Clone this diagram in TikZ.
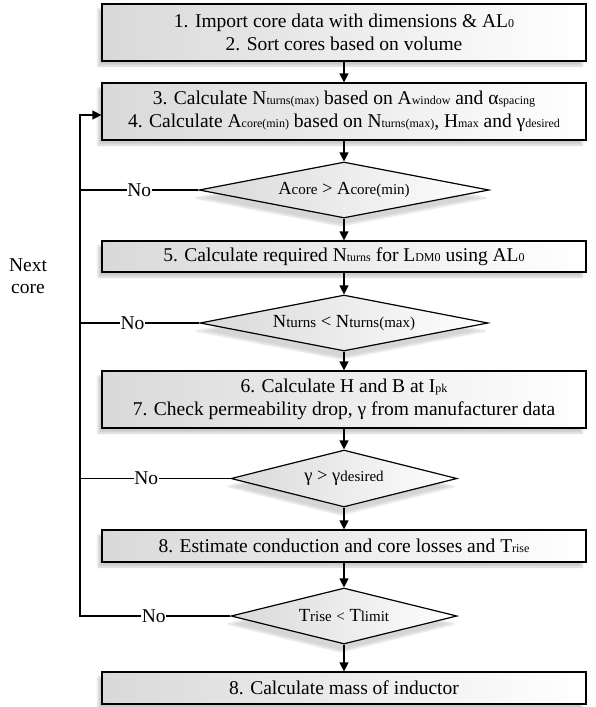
\documentclass[tikz,border=0pt]{standalone}
\usepackage{fontspec}
\setmainfont{Liberation Serif}
\usetikzlibrary{shapes.geometric,arrows.meta,shadows.blur}
\newcommand\sbs[1]{{\fontsize{12}{12}\selectfont #1}}
\newcommand\dsb[1]{{\fontsize{15}{15}\selectfont #1}}
\tikzset{
  stepbox/.style={draw, line width=1.2pt, left color=black!15, right color=white,
    minimum width=484pt, inner sep=0pt, align=center,
    font=\fontsize{19.5}{22.5}\selectfont,
    blur shadow={shadow xshift=-4pt, shadow yshift=-5pt, shadow blur steps=10, shadow opacity=20}},
  decision/.style={diamond, draw, line width=1.2pt, left color=black!15, right color=white,
    inner sep=0pt, font=\fontsize{18.5}{20}\selectfont,
    blur shadow={shadow xshift=-3pt, shadow yshift=-8pt, shadow blur steps=10, shadow opacity=16}},
  conn/.style={line width=1.2pt},
  arr/.style={line width=1.2pt, -{Triangle[length=9pt,width=9pt]}},
  nolabel/.style={fill=white, inner sep=0.5pt, font=\fontsize{19.5}{20}\selectfont}
}
\begin{document}
\begin{tikzpicture}[x=1pt,y=1pt]
\useasboundingbox (0,0) rectangle (595,-707);
\node[stepbox, minimum height=57pt] (b1) at (344,-32.5)
  {1. Import core data with dimensions \& AL\sbs{0}\\ 2. Sort cores based on volume};
\node[stepbox, minimum height=57pt] (b2) at (344,-111.5)
  {3. Calculate N\sbs{turns(max)} based on A\sbs{window} and α\sbs{spacing}\\
   4. Calculate A\sbs{core(min)} based on N\sbs{turns(max)}, H\sbs{max} and γ\sbs{desired}};
\node[decision, aspect=5.18, minimum width=290pt, minimum height=56pt] (d1) at (344,-190)
  {A\dsb{core} > A\dsb{core(min)}};
\node[stepbox, minimum height=31pt] (b5) at (344,-256.5)
  {5. Calculate required N\sbs{turns} for L\sbs{DM0} using AL\sbs{0}};
\node[decision, aspect=5.14, minimum width=288pt, minimum height=56pt] (d2) at (344,-323)
  {N\dsb{turns} < N\dsb{turns(max)}};
\node[stepbox, minimum height=57pt] (b6) at (344,-399.5)
  {6. Calculate H and B at I\sbs{pk}\\ 7. Check permeability drop, γ from manufacturer data};
\node[decision, aspect=3.96, minimum width=226pt, minimum height=57pt] (d3) at (344,-478.5)
  {γ > γ\dsb{desired}};
\node[stepbox, minimum height=32pt] (b8) at (344,-546)
  {8. Estimate conduction and core losses and T\sbs{rise}};
\node[decision, aspect=4.04, minimum width=226pt, minimum height=56pt] (d4) at (344,-616)
  {T\dsb{rise} \dsb{<} T\dsb{limit}};
\node[stepbox, minimum height=32pt] (b9) at (344,-688)
  {8. Calculate mass of inductor};
\node[font=\fontsize{19.5}{22.5}\selectfont, align=center] (nc) at (28,-276) {Next\\core};

\draw[arr] (b1.south) -- (b2.north);
\draw[arr] (b2.south) -- (d1.north);
\draw[arr] (d1.south) -- (b5.north);
\draw[arr] (b5.south) -- (d2.north);
\draw[arr] (d2.south) -- (b6.north);
\draw[arr] (b6.south) -- (d3.north);
\draw[arr] (d3.south) -- (b8.north);
\draw[arr] (b8.south) -- (d4.north);
\draw[arr] (d4.south) -- (b9.north);

\coordinate (loopb) at (80,-616);
\coordinate (loopt) at (80,-115);
\draw[conn] (d1.west) -- node[nolabel, pos=0.5] {No} (d1.west -| loopb);
\draw[conn] (d2.west) -- node[nolabel, pos=0.56] {No} (d2.west -| loopb);
\draw[conn] (d3.west) -- node[nolabel, pos=0.56] {No} (d3.west -| loopb);
\draw[arr] (d4.west) -- node[nolabel, pos=0.51] {No} (loopb) -- (loopt) -- (b2.west |- loopt);
\end{tikzpicture}
\end{document}
